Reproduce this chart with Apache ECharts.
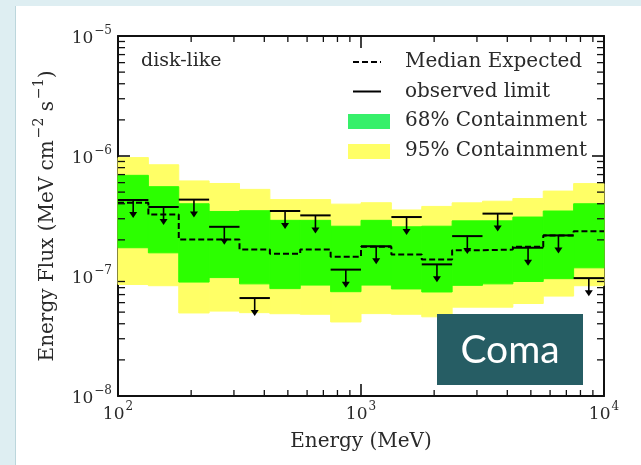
<!DOCTYPE html>
<html>
<head>
<meta charset="utf-8">
<script src="https://cdn.jsdelivr.net/npm/echarts@6/dist/echarts.min.js"></script>
<style>
  html, body { margin: 0; padding: 0; background: #deeef2; }
  #panel { position: absolute; left: 15px; top: 6px; width: 626px; height: 459px; background: #fff; border-left: 1px solid #bcd6dc; }
  #chart { position: absolute; left: 0; top: 0; width: 641px; height: 465px; }
</style>
</head>
<body>
<div id="panel"></div>
<div id="chart"></div>
<script>
// Energy bin edges (MeV), 8 bins per decade
const binEdges = [100, 133.35, 177.83, 237.14, 316.23, 421.70, 562.34, 749.89,
                  1000, 1333.5, 1778.3, 2371.4, 3162.3, 4217.0, 5623.4, 7498.9, 10000];

// Expected sensitivity bands (MeV cm^-2 s^-1), one value per bin
const band95Low  = [8.5e-8, 8.3e-8, 4.92e-8, 5.1e-8, 4.95e-8, 4.85e-8, 4.8e-8, 4.14e-8,
                    4.86e-8, 4.8e-8, 4.57e-8, 5.5e-8, 5.5e-8, 5.9e-8, 6.8e-8, 8.3e-8];
const band95High = [9.7e-7, 8.45e-7, 6.2e-7, 5.9e-7, 5.27e-7, 4.33e-7, 4.33e-7, 3.97e-7,
                    4.08e-7, 3.55e-7, 3.8e-7, 4.07e-7, 4.2e-7, 4.42e-7, 5.1e-7, 5.89e-7];
const band68Low  = [1.72e-7, 1.56e-7, 8.9e-8, 9.7e-8, 8.6e-8, 7.85e-8, 8.4e-8, 7.4e-8,
                    8.4e-8, 7.8e-8, 7.36e-8, 8.36e-8, 8.6e-8, 9.0e-8, 9.5e-8, 1.17e-7];
const band68High = [6.9e-7, 5.55e-7, 4.0e-7, 3.45e-7, 3.5e-7, 2.91e-7, 2.91e-7, 2.6e-7,
                    2.91e-7, 2.57e-7, 2.6e-7, 2.88e-7, 2.88e-7, 3.1e-7, 3.48e-7, 4.0e-7];
const medianExpected = [4.07e-7, 3.25e-7, 2.01e-7, 2.01e-7, 1.66e-7, 1.53e-7, 1.66e-7, 1.45e-7,
                        1.75e-7, 1.51e-7, 1.37e-7, 1.64e-7, 1.66e-7, 1.75e-7, 2.18e-7, 2.36e-7];
// Observed 95% upper limits per bin
const observedLimit = [4.3e-7, 3.76e-7, 4.33e-7, 2.57e-7, 6.55e-8, 3.48e-7, 3.2e-7, 1.13e-7,
                       1.77e-7, 3.1e-7, 1.25e-7, 2.15e-7, 3.31e-7, 1.72e-7, 2.18e-7, 9.6e-8];

// Minor tick positions for the log axes
const xMinorTicks = [200, 300, 400, 500, 600, 700, 800, 900, 2000, 3000, 4000, 5000, 6000, 7000, 8000, 9000];
const yMinorTicks = [2e-8, 3e-8, 4e-8, 5e-8, 6e-8, 7e-8, 8e-8, 9e-8,
                     2e-7, 3e-7, 4e-7, 5e-7, 6e-7, 7e-7, 8e-7, 9e-7,
                     2e-6, 3e-6, 4e-6, 5e-6, 6e-6, 7e-6, 8e-6, 9e-6];

const FONT = 'DejaVu Serif';
const TEXT = '#2a2a2a';
const GREEN = '#2cff00';
const YELLOW = '#ffff66';

const bandRows = (lo, hi) => lo.map((v, i) => [binEdges[i], binEdges[i + 1], v, hi[i]]);
const limitRows = observedLimit.map((v, i) => [binEdges[i], binEdges[i + 1], v]);
const medianSteps = medianExpected.map((v, i) => [binEdges[i], v])
  .concat([[binEdges[binEdges.length - 1], medianExpected[medianExpected.length - 1]]]);

function bandRenderer(color) {
  return function (params, api) {
    const a = api.coord([api.value(0), api.value(3)]);
    const b = api.coord([api.value(1), api.value(2)]);
    return {
      type: 'rect',
      shape: { x: a[0], y: a[1], width: b[0] - a[0], height: b[1] - a[1] },
      style: { fill: color, stroke: color, lineWidth: 1 }
    };
  };
}

function limitRenderer(params, api) {
  const a = api.coord([api.value(0), api.value(2)]);
  const b = api.coord([api.value(1), api.value(2)]);
  const xc = (a[0] + b[0]) / 2, y = a[1];
  return {
    type: 'group',
    children: [
      { type: 'line', shape: { x1: a[0], y1: y, x2: b[0], y2: y }, style: { stroke: '#000', lineWidth: 2 } },
      { type: 'line', shape: { x1: xc, y1: y, x2: xc, y2: y + 13 }, style: { stroke: '#000', lineWidth: 1.6 } },
      { type: 'polygon', shape: { points: [[xc - 4, y + 12], [xc + 4, y + 12], [xc, y + 18]] }, style: { fill: '#000' } }
    ]
  };
}

function xMinorRenderer(params, api) {
  const cs = params.coordSys;
  const x = api.coord([api.value(0), 1e-6])[0];
  const yb = cs.y + cs.height, yt = cs.y;
  return {
    type: 'group',
    children: [
      { type: 'line', shape: { x1: x, y1: yb, x2: x, y2: yb - 6 }, style: { stroke: '#111', lineWidth: 1.3 } },
      { type: 'line', shape: { x1: x, y1: yt, x2: x, y2: yt + 6 }, style: { stroke: '#111', lineWidth: 1.3 } }
    ]
  };
}

function yMinorRenderer(params, api) {
  const cs = params.coordSys;
  const y = api.coord([1000, api.value(0)])[1];
  const xl = cs.x, xr = cs.x + cs.width;
  return {
    type: 'group',
    children: [
      { type: 'line', shape: { x1: xl, y1: y, x2: xl + 7, y2: y }, style: { stroke: '#111', lineWidth: 1.3 } },
      { type: 'line', shape: { x1: xr, y1: y, x2: xr - 7, y2: y }, style: { stroke: '#111', lineWidth: 1.3 } }
    ]
  };
}

const expLabel = v => '{b|10}{s|' + String(Math.round(Math.log10(v))).replace('-', '\u2212') + '}';
const tickRich = {
  b: { fontFamily: FONT, fontSize: 17, color: TEXT, lineHeight: 22, verticalAlign: 'bottom' },
  s: { fontFamily: FONT, fontSize: 12, color: TEXT, lineHeight: 22, verticalAlign: 'top', padding: [0, 0, 0, 1] }
};

const axisLine = { show: true, lineStyle: { color: '#111', width: 2 } };
const majorTick = { show: true, inside: true, length: 12, lineStyle: { color: '#111', width: 1.6 } };

const chart = echarts.init(document.getElementById('chart'), null, { renderer: 'canvas' });
chart.setOption({
  animation: false,
  backgroundColor: 'transparent',
  grid: { left: 118, right: 37, top: 36, bottom: 69 },
  xAxis: [
    {
      type: 'log', logBase: 10, min: 100, max: 10000,
      axisLine, axisTick: majorTick, splitLine: { show: false },
      axisLabel: { formatter: expLabel, rich: tickRich, margin: 5 },
      name: 'Energy (MeV)', nameLocation: 'middle', nameGap: 36,
      nameTextStyle: { fontFamily: FONT, fontSize: 20, color: TEXT }
    },
    {
      type: 'log', logBase: 10, min: 100, max: 10000, position: 'top',
      axisLine, axisTick: majorTick, splitLine: { show: false }, axisLabel: { show: false }
    }
  ],
  yAxis: [
    {
      type: 'log', logBase: 10, min: 1e-8, max: 1e-5,
      axisLine, axisTick: majorTick, splitLine: { show: false },
      axisLabel: { formatter: expLabel, rich: tickRich, margin: 6 },
      name: '{t|Energy Flux (MeV cm}{s|\u22122}{t| s}{s|\u22121}{t|)}',
      nameLocation: 'middle', nameGap: 60, nameRotate: 90,
      nameTextStyle: {
        rich: {
          t: { fontFamily: FONT, fontSize: 20, color: TEXT, lineHeight: 26, verticalAlign: 'bottom' },
          s: { fontFamily: FONT, fontSize: 14, color: TEXT, lineHeight: 26, verticalAlign: 'top', padding: [0, 0, 0, 2] }
        }
      }
    },
    {
      type: 'log', logBase: 10, min: 1e-8, max: 1e-5, position: 'right',
      axisLine, axisTick: majorTick, splitLine: { show: false }, axisLabel: { show: false }
    }
  ],
  series: [
    {
      name: '95% Containment', type: 'custom', silent: true,
      renderItem: bandRenderer(YELLOW), encode: { x: [0, 1], y: [2, 3] },
      data: bandRows(band95Low, band95High), z: 1
    },
    {
      name: '68% Containment', type: 'custom', silent: true,
      renderItem: bandRenderer(GREEN), encode: { x: [0, 1], y: [2, 3] },
      data: bandRows(band68Low, band68High), z: 2
    },
    {
      name: 'Median Expected', type: 'line', step: 'end', silent: true,
      symbol: 'none', data: medianSteps, z: 3,
      lineStyle: { color: '#000', width: 2, type: [6, 3] }
    },
    {
      name: 'observed limit', type: 'custom', silent: true,
      renderItem: limitRenderer, encode: { x: [0, 1], y: 2 },
      data: limitRows, z: 4
    },
    {
      type: 'custom', silent: true, renderItem: xMinorRenderer,
      encode: { x: 0 }, data: xMinorTicks.map(v => [v]), z: 5
    },
    {
      type: 'custom', silent: true, renderItem: yMinorRenderer,
      encode: { y: 0 }, data: yMinorTicks.map(v => [v]), z: 5
    }
  ],
  graphic: [
    { type: 'text', left: 141, top: 52, silent: true,
      style: { text: 'disk-like', font: '19px "DejaVu Serif"', fill: TEXT } },
    // legend
    { type: 'line', silent: true, shape: { x1: 353, y1: 62, x2: 381, y2: 62 },
      style: { stroke: '#000', lineWidth: 2, lineDash: [6, 3] } },
    { type: 'line', silent: true, shape: { x1: 353, y1: 91.5, x2: 381, y2: 91.5 },
      style: { stroke: '#000', lineWidth: 2 } },
    { type: 'rect', silent: true, shape: { x: 348, y: 114, width: 42, height: 15 },
      style: { fill: '#36f06a' } },
    { type: 'rect', silent: true, shape: { x: 348, y: 144, width: 42, height: 15 },
      style: { fill: YELLOW } },
    { type: 'text', silent: true, x: 405, y: 62,
      style: { text: 'Median Expected', font: '20px "DejaVu Serif"', fill: TEXT, verticalAlign: 'middle' } },
    { type: 'text', silent: true, x: 405, y: 91.5,
      style: { text: 'observed limit', font: '20px "DejaVu Serif"', fill: TEXT, verticalAlign: 'middle' } },
    { type: 'text', silent: true, x: 405, y: 121,
      style: { text: '68% Containment', font: '20px "DejaVu Serif"', fill: TEXT, verticalAlign: 'middle' } },
    { type: 'text', silent: true, x: 405, y: 150.5,
      style: { text: '95% Containment', font: '20px "DejaVu Serif"', fill: TEXT, verticalAlign: 'middle' } },
    // cluster tag
    { type: 'rect', silent: true, z: 100, shape: { x: 437, y: 314, width: 146, height: 71 },
      style: { fill: '#265d64' } },
    { type: 'text', silent: true, z: 101, x: 510, y: 350,
      style: { text: 'Coma', font: '39px Lato', fill: '#ffffff', align: 'center', verticalAlign: 'middle' } }
  ]
});
</script>
</body>
</html>
